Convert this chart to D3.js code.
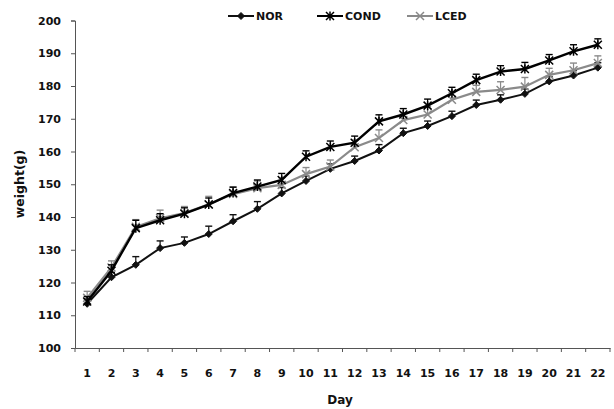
<!DOCTYPE html>
<html><head><meta charset="utf-8">
<script src="https://cdn.jsdelivr.net/npm/d3@7"></script>
<style>
body{margin:0;background:#fff;}
text{font-family:"DejaVu Sans",sans-serif;font-weight:bold;}
</style></head>
<body><svg id="c" width="614" height="409"></svg>
<script>
const days = [1,2,3,4,5,6,7,8,9,10,11,12,13,14,15,16,17,18,19,20,21,22];
const NOR  = [113.5,121.6,125.4,130.5,132.1,134.8,138.7,142.5,147.2,151.0,154.7,157.1,160.3,165.6,167.8,170.8,174.2,175.8,177.6,181.4,183.2,185.6];
const COND = [114.2,123.6,136.6,139.0,141.0,143.8,147.3,149.3,151.3,158.4,161.4,162.7,169.2,171.3,174.0,177.8,181.8,184.4,185.2,187.8,190.6,192.6];
const LCED = [115.3,124.6,137.0,139.6,141.2,143.9,147.0,148.8,149.8,153.1,155.4,161.3,164.1,169.6,171.3,175.8,178.2,178.8,179.8,183.4,184.8,187.0];
const NOR_ERR  = [1.5,1.5,2.5,2.2,1.8,2.4,2.0,2.2,1.8,1.5,1.5,1.5,1.8,1.5,1.5,1.5,1.5,1.5,1.5,1.5,1.5,1.5];
const COND_ERR = [1.5,1.8,2.4,2.0,1.8,2.0,1.8,2.0,2.0,1.8,1.8,2.0,2.0,1.8,2.0,1.8,1.8,1.8,2.0,1.8,2.0,1.8];
const LCED_ERR = [2.0,2.0,2.2,2.5,2.0,2.4,2.2,2.2,2.2,2.0,2.0,2.2,2.5,2.2,2.5,2.2,2.0,2.5,2.8,2.0,2.2,2.2];
const yTicks = [100,110,120,130,140,150,160,170,180,190,200];
const seriesNames = ["NOR","COND","LCED"];

const svg = d3.select("#c");
const x = d3.scaleBand().domain(days).range([75,610]).padding(0);
const y = d3.scaleLinear().domain([100,200]).range([348,20.5]);

// y axis
const ya = svg.append("g").attr("transform","translate(75,0)")
  .call(d3.axisLeft(y).tickValues(yTicks).tickSize(4).tickPadding(10));
ya.select(".domain").attr("stroke","#555");
ya.selectAll(".tick line").attr("stroke","#555");
ya.selectAll("text").attr("font-size",11).attr("fill","#111");

// x axis
const xa = svg.append("g").attr("transform","translate(0,348)")
  .call(d3.axisBottom(x).tickSize(0).tickPadding(21));
xa.select(".domain").attr("stroke","#555");
xa.selectAll("text").attr("font-size",11).attr("fill","#111");
// boundary ticks
const bounds = days.map(d=>x(d)).concat([x(days[days.length-1])+x.bandwidth()]);
svg.append("g").selectAll("line").data(bounds).join("line")
  .attr("x1",d=>d).attr("x2",d=>d).attr("y1",348).attr("y2",352)
  .attr("stroke","#555");

svg.append("text").attr("x",340).attr("y",404).attr("text-anchor","middle")
  .attr("font-size",12).attr("fill","#111").text("Day");
svg.append("text").attr("transform","translate(24,184) rotate(-90)")
  .attr("text-anchor","middle").attr("font-size",12.5).attr("fill","#111").text("weight(g)");

const series = [
  {name:"NOR", vals:NOR, err:NOR_ERR, color:"#111", width:2, marker:"diamond"},
  {name:"LCED", vals:LCED, err:LCED_ERR, color:"#8a8a8a", width:2.2, marker:"x"},
  {name:"COND", vals:COND, err:COND_ERR, color:"#000", width:2.4, marker:"star"}
];
const cx = d => x(d)+x.bandwidth()/2;

function drawMarker(g, type, color){
  if(type==="diamond"){
    g.append("path").attr("d","M0,-3.5L3.5,0L0,3.5L-3.5,0Z").attr("fill",color).attr("stroke",color);
  } else if(type==="x"){
    g.append("path").attr("d","M-4,-4L4,4M-4,4L4,-4").attr("stroke",color).attr("stroke-width",1.5);
  } else {
    g.append("path").attr("d","M-4,-4L4,4M-4,4L4,-4M0,-4.5L0,4.5").attr("stroke",color).attr("stroke-width",1.5);
  }
}

series.forEach(s=>{
  const g = svg.append("g");
  g.append("path").datum(days)
    .attr("d", d3.line().x(d=>cx(d)).y((d,i)=>y(s.vals[i])))
    .attr("fill","none").attr("stroke",s.color).attr("stroke-width",s.width);
  days.forEach((d,i)=>{
    const px = cx(d), py = y(s.vals[i]), pt = y(s.vals[i]+s.err[i]);
    g.append("line").attr("x1",px).attr("x2",px).attr("y1",py).attr("y2",pt)
      .attr("stroke",s.color).attr("stroke-width",1.2);
    g.append("line").attr("x1",px-3.5).attr("x2",px+3.5).attr("y1",pt).attr("y2",pt)
      .attr("stroke",s.color).attr("stroke-width",1.4);
    drawMarker(g.append("g").attr("transform",`translate(${px},${py})`), s.marker, s.color);
  });
});

// legend
const legend = [
  {name:"NOR", color:"#111", marker:"diamond", x:228},
  {name:"COND", color:"#000", marker:"star", x:317},
  {name:"LCED", color:"#8a8a8a", marker:"x", x:407}
];
legend.forEach(l=>{
  const g = svg.append("g").attr("transform",`translate(${l.x},16)`);
  g.append("line").attr("x1",0).attr("x2",26).attr("y1",0).attr("y2",0)
    .attr("stroke",l.color).attr("stroke-width",2);
  drawMarker(g.append("g").attr("transform","translate(13,0)"), l.marker, l.color);
  g.append("text").attr("x",28).attr("y",4).attr("font-size",11).attr("fill","#111").text(l.name);
});
</script></body></html>
